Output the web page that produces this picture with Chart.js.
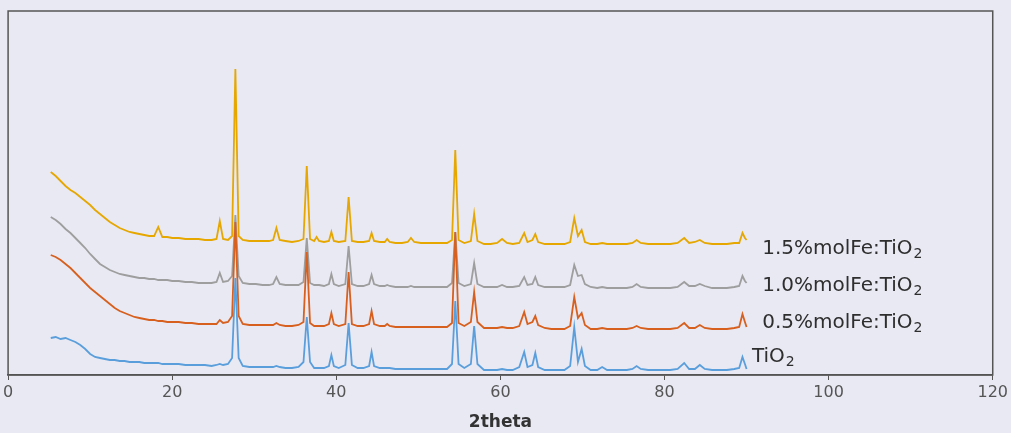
<!DOCTYPE html>
<html>
<head>
<meta charset="utf-8">
<title>XRD patterns</title>
<script src="https://cdn.jsdelivr.net/npm/chart.js@4/dist/chart.umd.min.js"></script>
<style>
  body { margin: 0; background: #e8e9f3; }
  #wrap { width: 1011px; height: 433px; }
</style>
</head>
<body>
<div id="wrap"><canvas id="xrdChart"></canvas></div>
<script>
// 2theta positions (deg)
const twoTheta = [
  5.2, 5.8, 6.4, 7.0, 7.6, 8.2, 8.8, 9.4, 10.0, 10.6,
  11.2, 11.8, 12.4, 13.0, 13.6, 14.2, 14.8, 15.4, 16.0, 16.6,
  17.2, 17.8, 18.3, 18.8, 19.4, 20.0, 20.8, 21.6, 22.4, 23.2,
  24.0, 24.8, 25.4, 25.8, 26.2, 26.8, 27.3, 27.7, 28.1, 28.6,
  29.4, 30.2, 31.0, 31.8, 32.3, 32.7, 33.1, 33.8, 34.6, 35.4,
  36.0, 36.4, 36.8, 37.3, 37.6, 37.9, 38.5, 39.1, 39.4, 39.7,
  40.3, 41.1, 41.5, 41.9, 42.6, 43.3, 44.0, 44.3, 44.6, 45.3,
  45.9, 46.2, 46.5, 47.2, 48.0, 48.7, 49.1, 49.5, 50.3, 51.1,
  51.9, 52.7, 53.5, 54.1, 54.5, 54.9, 55.6, 56.4, 56.8, 57.2,
  58.0, 58.8, 59.6, 60.2, 60.8, 61.5, 62.3, 62.9, 63.3, 63.9,
  64.25, 64.6, 65.4, 66.2, 67.0, 67.8, 68.5, 69.0, 69.45, 69.9,
  70.3, 71.0, 71.8, 72.4, 73.0, 73.8, 74.6, 75.4, 76.1, 76.6,
  77.1, 78.0, 78.9, 79.8, 80.7, 81.6, 82.4, 83.0, 83.7, 84.3,
  84.9, 85.8, 86.7, 87.6, 88.5, 89.1, 89.5, 89.8, 90.0
];

// intensities (a.u., stacked with an offset like the original)
const fe15 = [
  203, 199, 194, 189, 185, 182, 178, 174, 170, 165,
  161, 157, 153, 150, 147, 145, 143, 142, 141, 140,
  139, 139, 148, 138, 138, 137, 137, 136, 136, 136,
  135, 135, 136, 154, 136, 135, 139, 306, 139, 135,
  134, 134, 134, 134, 135, 147, 135, 134, 133, 134,
  136, 209, 136, 134, 138, 134, 133, 134, 143, 134,
  133, 134, 178, 134, 133, 133, 134, 142, 134, 133,
  133, 136, 133, 132, 132, 133, 137, 133, 132, 132,
  132, 132, 132, 135, 225, 135, 132, 134, 161, 134,
  131, 131, 132, 136, 132, 131, 132, 142, 133, 135,
  141, 133, 131, 131, 131, 131, 133, 157, 139, 145,
  133, 131, 131, 132, 131, 131, 131, 131, 132, 135,
  132, 131, 131, 131, 131, 132, 137, 132, 133, 135,
  132, 131, 131, 131, 132, 132, 142, 137, 135
];

const fe10 = [
  158, 155, 151, 146, 142, 137, 132, 127, 121, 116,
  111, 108, 105, 103, 101, 100, 99, 98, 97, 97,
  96, 96, 95, 95, 95, 94, 94, 93, 93, 92,
  92, 92, 93, 102, 93, 94, 99, 160, 99, 92,
  91, 91, 90, 90, 91, 98, 91, 90, 90, 90,
  93, 137, 92, 90, 90, 90, 89, 91, 101, 91,
  89, 91, 129, 91, 89, 89, 91, 100, 91, 89,
  89, 90, 89, 88, 88, 88, 89, 88, 88, 88,
  88, 88, 88, 92, 143, 92, 89, 91, 112, 91,
  88, 88, 88, 90, 88, 88, 89, 98, 90, 91,
  98, 90, 88, 88, 88, 88, 90, 110, 99, 100,
  91, 88, 87, 88, 87, 87, 87, 87, 88, 91,
  88, 87, 87, 87, 87, 88, 93, 89, 89, 91,
  89, 87, 87, 87, 88, 89, 99, 94, 92
];

const fe05 = [
  120, 118, 115, 111, 107, 102, 97, 92, 87, 83,
  79, 75, 71, 67, 64, 62, 60, 58, 57, 56,
  55, 55, 54, 54, 53, 53, 53, 52, 52, 51,
  51, 51, 51, 55, 52, 53, 59, 153, 59, 51,
  50, 50, 50, 50, 50, 52, 50, 49, 49, 50,
  53, 123, 52, 49, 49, 49, 49, 51, 62, 51,
  49, 51, 103, 51, 49, 49, 51, 64, 51, 49,
  49, 51, 49, 48, 48, 48, 48, 48, 48, 48,
  48, 48, 48, 52, 143, 52, 49, 53, 83, 53,
  47, 47, 47, 48, 47, 47, 49, 63, 51, 53,
  59, 50, 47, 46, 46, 46, 49, 78, 57, 62,
  50, 46, 46, 47, 46, 46, 46, 46, 47, 49,
  47, 46, 46, 46, 46, 47, 52, 47, 47, 50,
  47, 46, 46, 46, 47, 48, 61, 53, 48
];

const tio2 = [
  37, 38, 36, 37, 35, 33, 30, 26, 21, 18,
  17, 16, 15, 15, 14, 14, 13, 13, 13, 12,
  12, 12, 12, 11, 11, 11, 11, 10, 10, 10,
  10, 9, 10, 11, 10, 11, 17, 97, 17, 9,
  8, 8, 8, 8, 8, 9, 8, 7, 7, 8,
  13, 58, 13, 7, 7, 7, 7, 9, 20, 9,
  7, 10, 52, 10, 7, 7, 9, 23, 9, 7,
  7, 7, 7, 6, 6, 6, 6, 6, 6, 6,
  6, 6, 6, 11, 74, 11, 7, 11, 49, 11,
  5, 5, 5, 6, 5, 5, 8, 23, 8, 10,
  22, 8, 5, 5, 5, 5, 9, 48, 13, 26,
  9, 5, 5, 8, 5, 5, 5, 5, 6, 9,
  6, 5, 5, 5, 5, 6, 12, 6, 6, 10,
  6, 5, 5, 5, 6, 7, 18, 11, 6
];

const xTicks = [0, 20, 40, 60, 80, 100, 120];
const seriesNames = ['TiO2', '0.5%molFe:TiO2', '1.0%molFe:TiO2', '1.5%molFe:TiO2'];

function toPoints(ys) {
  return ys.map((y, i) => ({ x: twoTheta[i], y: y }));
}

// fills the page colour behind the chart
const paperBg = {
  id: 'paperBg',
  beforeDraw(chart) {
    const ctx = chart.ctx;
    ctx.save();
    ctx.fillStyle = '#e8e9f3';
    ctx.fillRect(0, 0, chart.width, chart.height);
    ctx.restore();
  }
};

// frame round the plot area
const plotFrame = {
  id: 'plotFrame',
  afterDraw(chart) {
    const a = chart.chartArea;
    const ctx = chart.ctx;
    ctx.save();
    ctx.strokeStyle = '#555555';
    ctx.lineWidth = 1.5;
    ctx.strokeRect(a.left, a.top, a.right - a.left, a.bottom - a.top);
    ctx.restore();
  }
};

// series names written next to the traces, with subscript 2
const traceLabels = {
  id: 'traceLabels',
  afterDatasetsDraw(chart) {
    const xs = chart.scales.x, ys = chart.scales.y;
    const spots = [[90.65, 13], [91.9, 47], [91.9, 84], [91.9, 121]];
    const ctx = chart.ctx;
    ctx.save();
    ctx.fillStyle = '#2e2e2e';
    ctx.textBaseline = 'alphabetic';
    seriesNames.forEach((name, i) => {
      const main = name.slice(0, -1);
      const sub = name.slice(-1);
      const px = xs.getPixelForValue(spots[i][0]);
      const py = ys.getPixelForValue(spots[i][1]);
      ctx.font = '20px "DejaVu Sans"';
      ctx.fillText(main, px, py);
      const w = ctx.measureText(main).width;
      ctx.font = '14px "DejaVu Sans"';
      ctx.fillText(sub, px + w + 1, py + 4);
    });
    ctx.restore();
  }
};

const ctx = document.getElementById('xrdChart').getContext('2d');

new Chart(ctx, {
  type: 'line',
  data: {
    datasets: [
      { label: seriesNames[0], data: toPoints(tio2), borderColor: '#5a9fdc' },
      { label: seriesNames[1], data: toPoints(fe05), borderColor: '#d8601e' },
      { label: seriesNames[2], data: toPoints(fe10), borderColor: '#9e9e9e' },
      { label: seriesNames[3], data: toPoints(fe15), borderColor: '#e6a700' }
    ]
  },
  options: {
    responsive: true,
    maintainAspectRatio: false,
    animation: false,
    layout: { padding: { left: 8, right: 18, top: 11, bottom: 0 } },
    elements: {
      point: { radius: 0 },
      line: { borderWidth: 1.8, tension: 0, fill: false }
    },
    plugins: {
      legend: { display: false },
      tooltip: { enabled: false }
    },
    scales: {
      x: {
        type: 'linear',
        min: 0,
        max: 120,
        afterBuildTicks: scale => { scale.ticks = xTicks.map(v => ({ value: v })); },
        afterFit: scale => { scale.height = 58; },
        grid: { display: true, drawOnChartArea: false, tickLength: 5, tickColor: '#555555' },
        border: { display: true, color: '#555555', width: 1.5 },
        ticks: {
          padding: 3,
          color: '#555555',
          font: { family: 'DejaVu Sans', size: 16 }
        },
        title: {
          display: true,
          text: '2theta',
          color: '#333333',
          padding: { top: 0, bottom: 0 },
          font: { family: 'DejaVu Sans', size: 17, weight: 'bold' }
        }
      },
      y: {
        display: false,
        min: 0,
        max: 364
      }
    }
  },
  plugins: [paperBg, plotFrame, traceLabels]
});
</script>
</body>
</html>
